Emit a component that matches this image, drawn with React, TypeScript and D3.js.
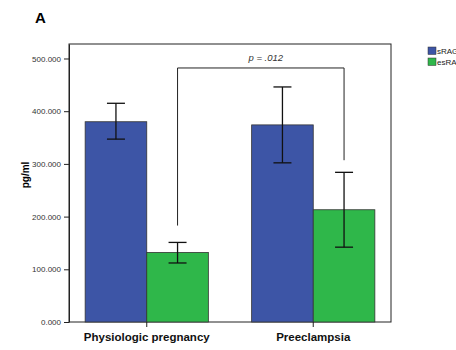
import { useEffect, useRef } from "react";
import * as d3 from "d3";

const categories = ["Physiologic pregnancy", "Preeclampsia"];
const seriesNames = ["sRAGE", "esRAGE"];
const means = [
  [380, 132],
  [374, 213],
];
const errLow = [
  [347, 112],
  [302, 142],
];
const errHigh = [
  [415, 151],
  [446, 284],
];
const yTicks = [0, 100, 200, 300, 400, 500];
const colors = ["#3d55a6", "#2fb74a"];

const App = () => {
  const ref = useRef<SVGSVGElement>(null);

  useEffect(() => {
    const svg = d3.select(ref.current);
    svg.selectAll("*").remove();

    const left = 69, right = 391, top = 44, bottom = 322;
    const font = "Arial, Liberation Sans, sans-serif";

    const x = d3.scaleBand().domain(categories).range([left, right]).paddingInner(0.26).paddingOuter(0.097);
    const xs = d3.scaleBand().domain(seriesNames).range([0, x.bandwidth()]);
    const y = d3.scaleLinear().domain([0, 527.5]).range([bottom, top]);

    svg.append("text").attr("x", 35).attr("y", 23).attr("font-size", 15).attr("font-weight", "bold")
      .attr("font-family", font).text("A");

    // frame
    svg.append("rect").attr("x", left).attr("y", top).attr("width", right - left).attr("height", bottom - top)
      .attr("fill", "none").attr("stroke", "#222").attr("stroke-width", 1);

    const g = svg.append("g");
    categories.forEach((c, i) => {
      seriesNames.forEach((s, j) => {
        const bx = (x(c) as number) + (xs(s) as number);
        g.append("rect").attr("x", bx).attr("y", y(means[i][j])).attr("width", xs.bandwidth())
          .attr("height", y(0) - y(means[i][j])).attr("fill", colors[j]).attr("stroke", "#333").attr("stroke-width", 0.8);
      });
    });
    categories.forEach((c, i) => {
      seriesNames.forEach((s, j) => {
        const cx = (x(c) as number) + (xs(s) as number) + xs.bandwidth() / 2;
        g.append("line").attr("x1", cx).attr("x2", cx).attr("y1", y(errLow[i][j])).attr("y2", y(errHigh[i][j]))
          .attr("stroke", "#111").attr("stroke-width", 1.3);
        [errLow[i][j], errHigh[i][j]].forEach((v) => {
          g.append("line").attr("x1", cx - 9).attr("x2", cx + 9).attr("y1", y(v)).attr("y2", y(v))
            .attr("stroke", "#111").attr("stroke-width", 1.3);
        });
      });
    });

    // y axis
    const ya = svg.append("g").attr("transform", `translate(${left},0)`)
      .call(d3.axisLeft(y).tickValues(yTicks).tickSize(5).tickSizeOuter(0).tickFormat((d) => d3.format(".3f")(+d)));
    ya.select(".domain").attr("stroke", "#222");
    ya.selectAll(".tick line").attr("stroke", "#222");
    ya.selectAll("text").attr("font-size", 8).attr("fill", "#333").attr("font-family", font);

    // x axis ticks
    categories.forEach((c) => {
      const cx = (x(c) as number) + x.bandwidth() / 2;
      svg.append("line").attr("x1", cx).attr("x2", cx).attr("y1", bottom).attr("y2", bottom + 5).attr("stroke", "#222");
      svg.append("text").attr("x", cx).attr("y", 341).attr("text-anchor", "middle").attr("font-size", 11.5)
        .attr("font-weight", "bold").attr("font-family", font).attr("fill", "#111").text(c);
    });

    svg.append("text").attr("transform", `translate(29,175) rotate(-90)`).attr("text-anchor", "middle")
      .attr("font-size", 10).attr("font-weight", "bold").attr("font-family", font).text("pg/ml");

    // significance bracket
    const lx = (x(categories[0]) as number) + (xs(seriesNames[1]) as number) + xs.bandwidth() / 2;
    const rx = (x(categories[1]) as number) + (xs(seriesNames[1]) as number) + xs.bandwidth() / 2;
    const by = y(482);
    svg.append("path").attr("d", `M${lx},${y(183)}V${by}H${rx}V${y(307)}`).attr("fill", "none")
      .attr("stroke", "#222").attr("stroke-width", 1);
    svg.append("text").attr("x", (lx + rx) / 2 + 5).attr("y", 61).attr("text-anchor", "middle").attr("font-size", 9.5)
      .attr("font-style", "italic").attr("fill", "#333").attr("font-family", font).text("p = .012");

    // legend (clipped at the right edge, as in the source figure)
    seriesNames.forEach((s, j) => {
      svg.append("rect").attr("x", 428).attr("y", 47 + j * 11).attr("width", 8).attr("height", 7.5)
        .attr("fill", colors[j]).attr("stroke", "#333").attr("stroke-width", 0.5);
      svg.append("text").attr("x", 437).attr("y", 54 + j * 11).attr("font-size", 8).attr("fill", "#222")
        .attr("font-family", font).text(s);
    });
  }, []);

  return (
    <svg ref={ref} width={456} height={350} style={{ position: "absolute", left: 0, top: 0, background: "#fff" }} />
  );
};

export default App;
